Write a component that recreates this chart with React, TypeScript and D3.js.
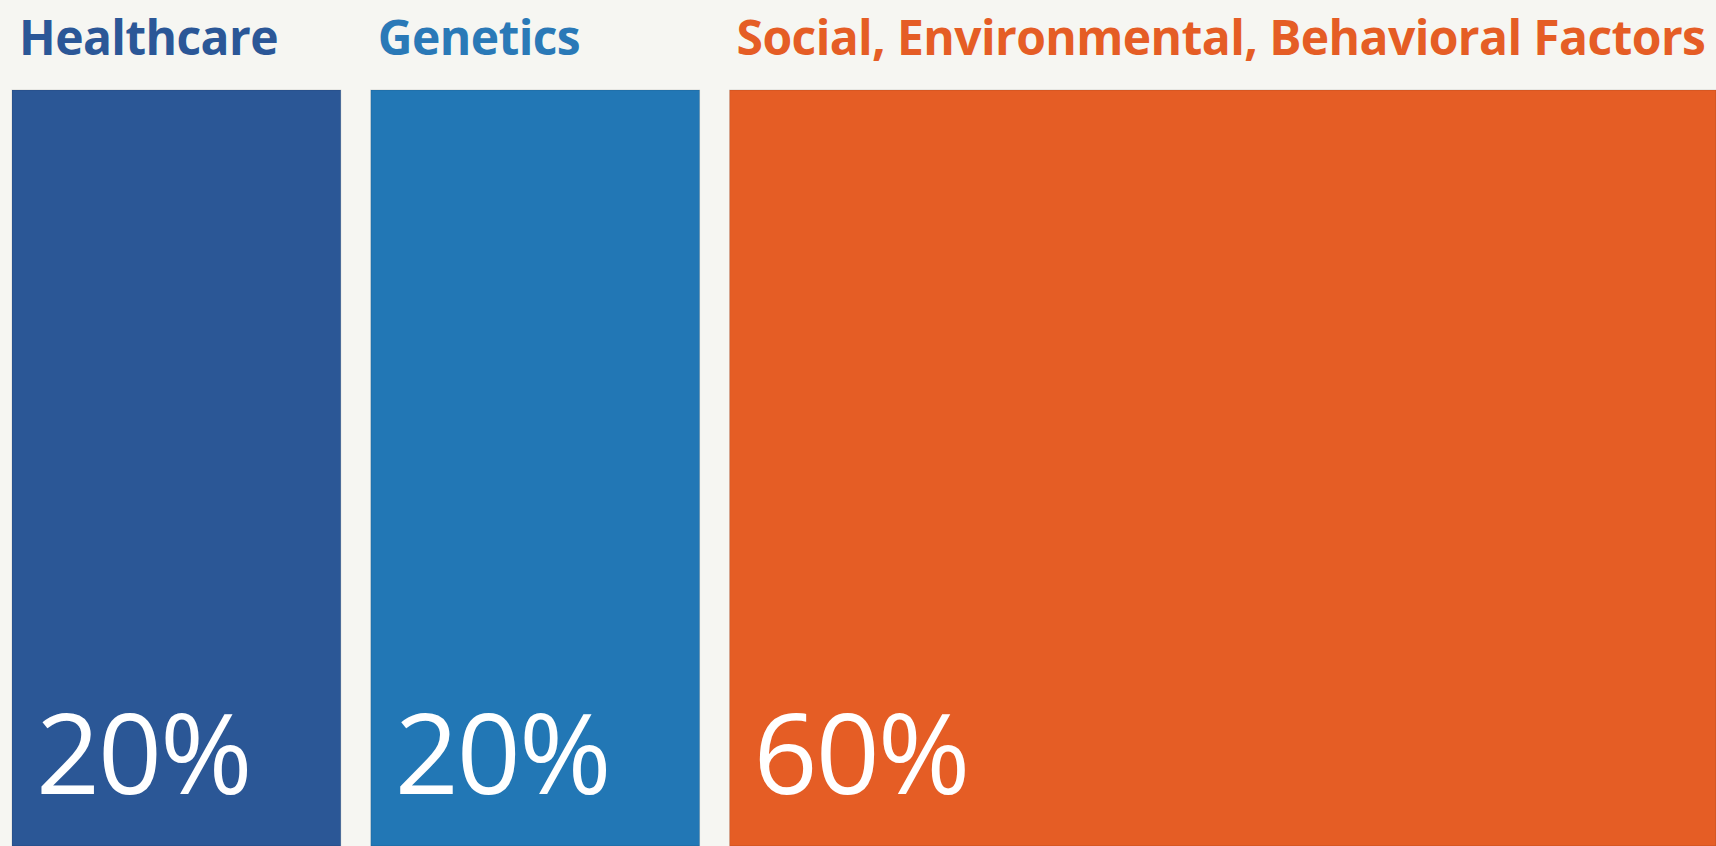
import { useEffect, useRef } from "react";
import * as d3 from "d3";

const categories = ["Healthcare", "Genetics", "Social, Environmental, Behavioral Factors"];
const shares = [20, 20, 60];
const shareLabels = ["20%", "20%", "60%"];
const barColors = ["#2B5796", "#2277B5", "#E55D25"];
const titleColors = ["#2B5797", "#2A79B7", "#E55D25"];

const WIDTH = 1716;
const HEIGHT = 846;

export default function App() {
  const svgRef = useRef<SVGSVGElement>(null);

  useEffect(() => {
    if (!svgRef.current) return;
    const svg = d3.select(svgRef.current);
    svg.selectAll("*").remove();

    const margin = { top: 90, left: 12 };
    const gap = 30;
    const total = WIDTH - margin.left - gap * (shares.length - 1);

    // width proportional to share
    const w = d3.scaleLinear().domain([0, d3.sum(shares)]).range([0, total]);
    const starts = shares.map((_, i) => margin.left + w(d3.sum(shares.slice(0, i))) + gap * i);

    const y = d3.scaleLinear().domain([0, 1]).range([HEIGHT, margin.top]);

    svg.append("rect")
      .attr("width", WIDTH)
      .attr("height", HEIGHT)
      .attr("fill", "#F6F6F2");

    const g = svg.append("g");

    g.selectAll("rect.bar")
      .data(shares)
      .join("rect")
      .attr("class", "bar")
      .attr("x", (_, i) => starts[i])
      .attr("y", y(1))
      .attr("width", (d) => w(d))
      .attr("height", y(0) - y(1))
      .attr("fill", (_, i) => barColors[i])
      .attr("stroke", "rgba(0,0,0,0.12)")
      .attr("stroke-width", 1);

    // category titles above the bars
    g.selectAll("text.title")
      .data(categories)
      .join("text")
      .attr("class", "title")
      .attr("x", (_, i) => starts[i] + 7)
      .attr("y", 55)
      .attr("fill", (_, i) => titleColors[i])
      .attr("font-family", "'Open Sans', sans-serif")
      .attr("font-weight", 700)
      .attr("font-size", 48)
      .attr("letter-spacing", -0.6)
      .text((d) => d);

    // share labels inside the bars
    g.selectAll("text.share")
      .data(shareLabels)
      .join("text")
      .attr("class", "share")
      .attr("x", (_, i) => starts[i] + 24)
      .attr("y", 794)
      .attr("fill", "#FFFFFF")
      .attr("font-family", "'Open Sans', sans-serif")
      .attr("font-size", 112)
      .attr("letter-spacing", -2)
      .text((d) => d);
  }, []);

  return (
    <svg
      ref={svgRef}
      width={WIDTH}
      height={HEIGHT}
      style={{ position: "absolute", top: 0, left: 0, display: "block" }}
    />
  );
}
